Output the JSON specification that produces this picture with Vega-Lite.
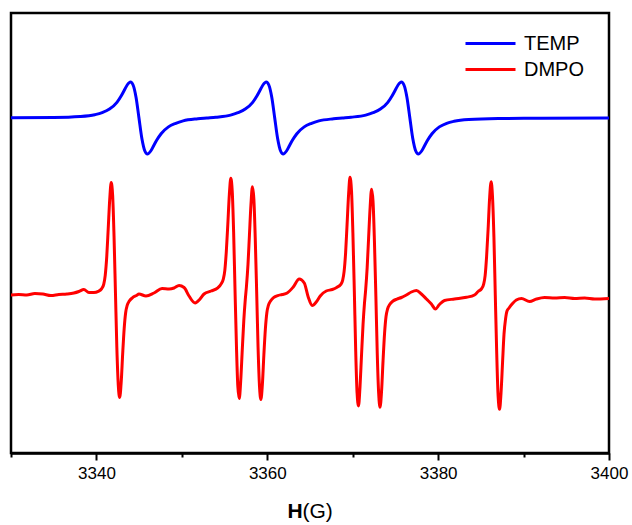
{
  "$schema": "https://vega.github.io/schema/vega-lite/v6.json",
  "width": 598,
  "height": 440,
  "autosize": {"type": "none"},
  "padding": {"left": 11, "top": 13, "right": 23, "bottom": 72},
  "background": "white",
  "config": {
    "view": {"stroke": "black", "strokeWidth": 2.5},
    "font": "Liberation Sans"
  },
  "data": {
    "values": [
      {"series": "TEMP", "H": 3330, "I": 335.2},
      {"series": "TEMP", "H": 3335, "I": 335.5},
      {"series": "TEMP", "H": 3338.09, "I": 336.5},
      {"series": "TEMP", "H": 3339.81, "I": 338.3},
      {"series": "TEMP", "H": 3340.67, "I": 340.3},
      {"series": "TEMP", "H": 3341.53, "I": 343.9},
      {"series": "TEMP", "H": 3342.40, "I": 350.7},
      {"series": "TEMP", "H": 3342.91, "I": 357.3},
      {"series": "TEMP", "H": 3343.26, "I": 362.7},
      {"series": "TEMP", "H": 3343.60, "I": 368},
      {"series": "TEMP", "H": 3343.99, "I": 371},
      {"series": "TEMP", "H": 3344.29, "I": 368},
      {"series": "TEMP", "H": 3344.64, "I": 355.5},
      {"series": "TEMP", "H": 3344.98, "I": 335},
      {"series": "TEMP", "H": 3345.32, "I": 314.5},
      {"series": "TEMP", "H": 3345.67, "I": 302},
      {"series": "TEMP", "H": 3345.97, "I": 299},
      {"series": "TEMP", "H": 3346.36, "I": 302},
      {"series": "TEMP", "H": 3346.70, "I": 307.3},
      {"series": "TEMP", "H": 3347.05, "I": 312.7},
      {"series": "TEMP", "H": 3347.57, "I": 319.3},
      {"series": "TEMP", "H": 3348.43, "I": 326.1},
      {"series": "TEMP", "H": 3349.29, "I": 329.7},
      {"series": "TEMP", "H": 3350.15, "I": 332.1},
      {"series": "TEMP", "H": 3351.87, "I": 334.2},
      {"series": "TEMP", "H": 3352.92, "I": 335},
      {"series": "TEMP", "H": 3353.98, "I": 335.8},
      {"series": "TEMP", "H": 3355.70, "I": 337.9},
      {"series": "TEMP", "H": 3356.56, "I": 340.3},
      {"series": "TEMP", "H": 3357.42, "I": 343.9},
      {"series": "TEMP", "H": 3358.29, "I": 350.7},
      {"series": "TEMP", "H": 3358.80, "I": 357.3},
      {"series": "TEMP", "H": 3359.15, "I": 362.7},
      {"series": "TEMP", "H": 3359.49, "I": 368},
      {"series": "TEMP", "H": 3359.88, "I": 371},
      {"series": "TEMP", "H": 3360.18, "I": 368},
      {"series": "TEMP", "H": 3360.53, "I": 355.5},
      {"series": "TEMP", "H": 3360.87, "I": 335},
      {"series": "TEMP", "H": 3361.21, "I": 314.5},
      {"series": "TEMP", "H": 3361.56, "I": 302},
      {"series": "TEMP", "H": 3361.86, "I": 299},
      {"series": "TEMP", "H": 3362.25, "I": 302},
      {"series": "TEMP", "H": 3362.59, "I": 307.3},
      {"series": "TEMP", "H": 3362.94, "I": 312.7},
      {"series": "TEMP", "H": 3363.46, "I": 319.3},
      {"series": "TEMP", "H": 3364.32, "I": 326.1},
      {"series": "TEMP", "H": 3365.18, "I": 329.7},
      {"series": "TEMP", "H": 3366.04, "I": 332.1},
      {"series": "TEMP", "H": 3367.76, "I": 334.2},
      {"series": "TEMP", "H": 3368.78, "I": 335},
      {"series": "TEMP", "H": 3369.80, "I": 335.8},
      {"series": "TEMP", "H": 3371.52, "I": 337.9},
      {"series": "TEMP", "H": 3372.38, "I": 340.3},
      {"series": "TEMP", "H": 3373.24, "I": 343.9},
      {"series": "TEMP", "H": 3374.11, "I": 350.7},
      {"series": "TEMP", "H": 3374.62, "I": 357.3},
      {"series": "TEMP", "H": 3374.97, "I": 362.7},
      {"series": "TEMP", "H": 3375.31, "I": 368},
      {"series": "TEMP", "H": 3375.70, "I": 371},
      {"series": "TEMP", "H": 3376.00, "I": 368},
      {"series": "TEMP", "H": 3376.35, "I": 355.5},
      {"series": "TEMP", "H": 3376.69, "I": 335},
      {"series": "TEMP", "H": 3377.03, "I": 314.5},
      {"series": "TEMP", "H": 3377.38, "I": 302},
      {"series": "TEMP", "H": 3377.68, "I": 299},
      {"series": "TEMP", "H": 3378.07, "I": 302},
      {"series": "TEMP", "H": 3378.41, "I": 307.3},
      {"series": "TEMP", "H": 3378.76, "I": 312.7},
      {"series": "TEMP", "H": 3379.28, "I": 319.3},
      {"series": "TEMP", "H": 3380.14, "I": 326.1},
      {"series": "TEMP", "H": 3381.00, "I": 329.7},
      {"series": "TEMP", "H": 3381.86, "I": 331.7},
      {"series": "TEMP", "H": 3383.58, "I": 333.5},
      {"series": "TEMP", "H": 3387.03, "I": 334.5},
      {"series": "TEMP", "H": 3392, "I": 334.8},
      {"series": "TEMP", "H": 3400, "I": 335},

      {"series": "DMPO", "H": 3330.00, "I": 158},
      {"series": "DMPO", "H": 3330.91, "I": 158.5},
      {"series": "DMPO", "H": 3331.85, "I": 158},
      {"series": "DMPO", "H": 3332.79, "I": 159.5},
      {"series": "DMPO", "H": 3333.73, "I": 159},
      {"series": "DMPO", "H": 3334.67, "I": 157.5},
      {"series": "DMPO", "H": 3335.60, "I": 158.5},
      {"series": "DMPO", "H": 3336.54, "I": 159},
      {"series": "DMPO", "H": 3337.36, "I": 160},
      {"series": "DMPO", "H": 3337.95, "I": 161.5},
      {"series": "DMPO", "H": 3338.53, "I": 163.5},
      {"series": "DMPO", "H": 3339.12, "I": 160.5},
      {"series": "DMPO", "H": 3339.71, "I": 160.5},
      {"series": "DMPO", "H": 3340.21, "I": 161.6},
      {"series": "DMPO", "H": 3340.62, "I": 164.4},
      {"series": "DMPO", "H": 3340.86, "I": 168.9},
      {"series": "DMPO", "H": 3341.03, "I": 177.7},
      {"series": "DMPO", "H": 3341.21, "I": 196.6},
      {"series": "DMPO", "H": 3341.38, "I": 224.3},
      {"series": "DMPO", "H": 3341.56, "I": 254.2},
      {"series": "DMPO", "H": 3341.73, "I": 270.4},
      {"series": "DMPO", "H": 3341.90, "I": 257.5},
      {"series": "DMPO", "H": 3342.06, "I": 217.1},
      {"series": "DMPO", "H": 3342.23, "I": 159.5},
      {"series": "DMPO", "H": 3342.39, "I": 105.5},
      {"series": "DMPO", "H": 3342.56, "I": 67.7},
      {"series": "DMPO", "H": 3342.72, "I": 55.5},
      {"series": "DMPO", "H": 3342.90, "I": 70.8},
      {"series": "DMPO", "H": 3343.07, "I": 98.8},
      {"series": "DMPO", "H": 3343.25, "I": 124.7},
      {"series": "DMPO", "H": 3343.42, "I": 140.3},
      {"series": "DMPO", "H": 3343.60, "I": 147.6},
      {"series": "DMPO", "H": 3343.83, "I": 151.7},
      {"series": "DMPO", "H": 3344.24, "I": 155.4},
      {"series": "DMPO", "H": 3344.69, "I": 157.5},
      {"series": "DMPO", "H": 3344.98, "I": 159},
      {"series": "DMPO", "H": 3345.80, "I": 157},
      {"series": "DMPO", "H": 3346.74, "I": 160},
      {"series": "DMPO", "H": 3347.68, "I": 164.5},
      {"series": "DMPO", "H": 3348.50, "I": 164},
      {"series": "DMPO", "H": 3349.09, "I": 165},
      {"series": "DMPO", "H": 3349.67, "I": 167.5},
      {"series": "DMPO", "H": 3350.26, "I": 165.5},
      {"series": "DMPO", "H": 3350.84, "I": 157},
      {"series": "DMPO", "H": 3351.55, "I": 150},
      {"series": "DMPO", "H": 3352.13, "I": 154},
      {"series": "DMPO", "H": 3352.60, "I": 159},
      {"series": "DMPO", "H": 3353.42, "I": 162},
      {"series": "DMPO", "H": 3354.21, "I": 165.1},
      {"series": "DMPO", "H": 3354.62, "I": 169.4},
      {"series": "DMPO", "H": 3354.85, "I": 173.9},
      {"series": "DMPO", "H": 3355.03, "I": 182.7},
      {"series": "DMPO", "H": 3355.20, "I": 201},
      {"series": "DMPO", "H": 3355.38, "I": 228.7},
      {"series": "DMPO", "H": 3355.56, "I": 258.6},
      {"series": "DMPO", "H": 3355.73, "I": 274.7},
      {"series": "DMPO", "H": 3355.90, "I": 261.4},
      {"series": "DMPO", "H": 3356.06, "I": 221},
      {"series": "DMPO", "H": 3356.22, "I": 164},
      {"series": "DMPO", "H": 3356.39, "I": 107.1},
      {"series": "DMPO", "H": 3356.55, "I": 66.8},
      {"series": "DMPO", "H": 3356.72, "I": 54.4},
      {"series": "DMPO", "H": 3356.89, "I": 72.3},
      {"series": "DMPO", "H": 3357.07, "I": 102.9},
      {"series": "DMPO", "H": 3357.25, "I": 132.4},
      {"series": "DMPO", "H": 3357.42, "I": 153.1},
      {"series": "DMPO", "H": 3357.56, "I": 166.5},
      {"series": "DMPO", "H": 3357.74, "I": 188.3},
      {"series": "DMPO", "H": 3357.91, "I": 217.8},
      {"series": "DMPO", "H": 3358.09, "I": 248.6},
      {"series": "DMPO", "H": 3358.26, "I": 266.3},
      {"series": "DMPO", "H": 3358.43, "I": 254},
      {"series": "DMPO", "H": 3358.59, "I": 215.1},
      {"series": "DMPO", "H": 3358.76, "I": 160.1},
      {"series": "DMPO", "H": 3358.92, "I": 105.7},
      {"series": "DMPO", "H": 3359.09, "I": 66.4},
      {"series": "DMPO", "H": 3359.25, "I": 53.4},
      {"series": "DMPO", "H": 3359.43, "I": 69.2},
      {"series": "DMPO", "H": 3359.60, "I": 98},
      {"series": "DMPO", "H": 3359.78, "I": 124.5},
      {"series": "DMPO", "H": 3359.95, "I": 140.3},
      {"series": "DMPO", "H": 3360.13, "I": 147.6},
      {"series": "DMPO", "H": 3360.36, "I": 151.7},
      {"series": "DMPO", "H": 3360.77, "I": 155.6},
      {"series": "DMPO", "H": 3361.22, "I": 157.4},
      {"series": "DMPO", "H": 3361.75, "I": 158.5},
      {"series": "DMPO", "H": 3362.33, "I": 160},
      {"series": "DMPO", "H": 3363.04, "I": 166},
      {"series": "DMPO", "H": 3363.74, "I": 174},
      {"series": "DMPO", "H": 3364.33, "I": 170},
      {"series": "DMPO", "H": 3364.79, "I": 156},
      {"series": "DMPO", "H": 3365.26, "I": 147.5},
      {"series": "DMPO", "H": 3365.73, "I": 151},
      {"series": "DMPO", "H": 3366.20, "I": 157},
      {"series": "DMPO", "H": 3366.90, "I": 162},
      {"series": "DMPO", "H": 3367.61, "I": 163.5},
      {"series": "DMPO", "H": 3368.17, "I": 165.8},
      {"series": "DMPO", "H": 3368.58, "I": 168.3},
      {"series": "DMPO", "H": 3368.82, "I": 172.6},
      {"series": "DMPO", "H": 3368.99, "I": 181.3},
      {"series": "DMPO", "H": 3369.17, "I": 200.4},
      {"series": "DMPO", "H": 3369.34, "I": 228.6},
      {"series": "DMPO", "H": 3369.52, "I": 258.9},
      {"series": "DMPO", "H": 3369.68, "I": 275.7},
      {"series": "DMPO", "H": 3369.86, "I": 262},
      {"series": "DMPO", "H": 3370.02, "I": 220.2},
      {"series": "DMPO", "H": 3370.19, "I": 161.6},
      {"series": "DMPO", "H": 3370.35, "I": 102.2},
      {"series": "DMPO", "H": 3370.51, "I": 60.1},
      {"series": "DMPO", "H": 3370.68, "I": 47.1},
      {"series": "DMPO", "H": 3370.85, "I": 65.7},
      {"series": "DMPO", "H": 3371.03, "I": 97.7},
      {"series": "DMPO", "H": 3371.21, "I": 128.6},
      {"series": "DMPO", "H": 3371.38, "I": 150.1},
      {"series": "DMPO", "H": 3371.51, "I": 162.7},
      {"series": "DMPO", "H": 3371.69, "I": 185.2},
      {"series": "DMPO", "H": 3371.86, "I": 215},
      {"series": "DMPO", "H": 3372.04, "I": 246},
      {"series": "DMPO", "H": 3372.21, "I": 263.7},
      {"series": "DMPO", "H": 3372.38, "I": 251.3},
      {"series": "DMPO", "H": 3372.54, "I": 212.5},
      {"series": "DMPO", "H": 3372.71, "I": 157.3},
      {"series": "DMPO", "H": 3372.87, "I": 100.3},
      {"series": "DMPO", "H": 3373.04, "I": 59.3},
      {"series": "DMPO", "H": 3373.20, "I": 45.7},
      {"series": "DMPO", "H": 3373.38, "I": 62.3},
      {"series": "DMPO", "H": 3373.55, "I": 92.2},
      {"series": "DMPO", "H": 3373.73, "I": 119.9},
      {"series": "DMPO", "H": 3373.90, "I": 136.5},
      {"series": "DMPO", "H": 3374.08, "I": 144},
      {"series": "DMPO", "H": 3374.31, "I": 148.2},
      {"series": "DMPO", "H": 3374.72, "I": 152},
      {"series": "DMPO", "H": 3375.17, "I": 153.9},
      {"series": "DMPO", "H": 3375.70, "I": 155.5},
      {"series": "DMPO", "H": 3376.28, "I": 158},
      {"series": "DMPO", "H": 3376.87, "I": 161},
      {"series": "DMPO", "H": 3377.46, "I": 162.5},
      {"series": "DMPO", "H": 3378.04, "I": 159},
      {"series": "DMPO", "H": 3378.63, "I": 154},
      {"series": "DMPO", "H": 3379.21, "I": 149},
      {"series": "DMPO", "H": 3379.68, "I": 144},
      {"series": "DMPO", "H": 3380.15, "I": 148.5},
      {"series": "DMPO", "H": 3380.74, "I": 152.5},
      {"series": "DMPO", "H": 3381.91, "I": 154},
      {"series": "DMPO", "H": 3383.32, "I": 155.7},
      {"series": "DMPO", "H": 3384.25, "I": 158},
      {"series": "DMPO", "H": 3384.68, "I": 161.5},
      {"series": "DMPO", "H": 3385.09, "I": 164.4},
      {"series": "DMPO", "H": 3385.32, "I": 168.6},
      {"series": "DMPO", "H": 3385.50, "I": 177.4},
      {"series": "DMPO", "H": 3385.67, "I": 196.2},
      {"series": "DMPO", "H": 3385.85, "I": 224},
      {"series": "DMPO", "H": 3386.02, "I": 254.2},
      {"series": "DMPO", "H": 3386.20, "I": 271.3},
      {"series": "DMPO", "H": 3386.36, "I": 257},
      {"series": "DMPO", "H": 3386.53, "I": 215.8},
      {"series": "DMPO", "H": 3386.69, "I": 157.8},
      {"series": "DMPO", "H": 3386.86, "I": 98.7},
      {"series": "DMPO", "H": 3387.02, "I": 56.8},
      {"series": "DMPO", "H": 3387.19, "I": 43.7},
      {"series": "DMPO", "H": 3387.36, "I": 59.8},
      {"series": "DMPO", "H": 3387.54, "I": 90.5},
      {"series": "DMPO", "H": 3387.71, "I": 118.8},
      {"series": "DMPO", "H": 3387.89, "I": 134},
      {"series": "DMPO", "H": 3388.06, "I": 142},
      {"series": "DMPO", "H": 3388.30, "I": 145},
      {"series": "DMPO", "H": 3388.71, "I": 149.5},
      {"series": "DMPO", "H": 3389.15, "I": 153},
      {"series": "DMPO", "H": 3389.76, "I": 154.5},
      {"series": "DMPO", "H": 3390.70, "I": 151.5},
      {"series": "DMPO", "H": 3391.52, "I": 154},
      {"series": "DMPO", "H": 3392.46, "I": 155.5},
      {"series": "DMPO", "H": 3393.63, "I": 155},
      {"series": "DMPO", "H": 3394.81, "I": 155.5},
      {"series": "DMPO", "H": 3395.98, "I": 154.5},
      {"series": "DMPO", "H": 3397.15, "I": 155},
      {"series": "DMPO", "H": 3398.32, "I": 154},
      {"series": "DMPO", "H": 3400.00, "I": 154.5}
    ]
  },
  "mark": {"type": "line", "interpolate": "monotone", "strokeWidth": 3, "strokeJoin": "round", "strokeCap": "round", "clip": true},
  "encoding": {
    "x": {
      "field": "H",
      "type": "quantitative",
      "scale": {"domain": [3330, 3400], "nice": false, "zero": false},
      "axis": {
        "values": [3330, 3340, 3350, 3360, 3370, 3380, 3390, 3400],
        "labelExpr": "datum.value % 20 == 0 ? datum.label : ''",
        "format": "d",
        "tickSize": {"condition": {"test": "datum.value % 20 == 0", "value": 7}, "value": 4},
        "tickWidth": 2,
        "tickColor": "black",
        "domainColor": "black",
        "domainWidth": 2.5,
        "grid": false,
        "labelFont": "Liberation Sans",
        "labelFontSize": 17,
        "labelColor": "black",
        "labelPadding": 5,
        "labelFlush": false,
        "labelOverlap": false,
        "title": "H",
        "titleFont": "Liberation Sans",
        "titleFontSize": 21,
        "titleFontWeight": "bold",
        "titleColor": "black",
        "titleAlign": "left",
        "titleBaseline": "alphabetic",
        "titleAnchor": "start",
        "titleX": 276,
        "titleY": 64
      }
    },
    "y": {
      "field": "I",
      "type": "quantitative",
      "scale": {"domain": [0, 440], "nice": false, "zero": false},
      "axis": {
        "orient": "left",
        "domain": false,
        "ticks": false,
        "labels": false,
        "grid": false,
        "title": "(G)",
        "titleAngle": 0,
        "titleFont": "Liberation Sans",
        "titleFontSize": 21,
        "titleFontWeight": "normal",
        "titleColor": "black",
        "titleAlign": "left",
        "titleBaseline": "alphabetic",
        "titleAnchor": "start",
        "titleX": 291,
        "titleY": 504
      }
    },
    "color": {
      "field": "series",
      "type": "nominal",
      "scale": {"domain": ["TEMP", "DMPO"], "range": ["#0000ff", "#ff0000"]},
      "legend": {
        "orient": "none",
        "legendX": 468,
        "legendY": 19,
        "title": null,
        "padding": 0,
        "symbolType": "M-2.5,0H2.5",
        "symbolSize": 400,
        "symbolStrokeWidth": 3,
        "labelFont": "Liberation Sans",
        "labelFontSize": 20,
        "labelColor": "black",
        "labelOffset": 22,
        "rowPadding": 4
      }
    }
  }
}
